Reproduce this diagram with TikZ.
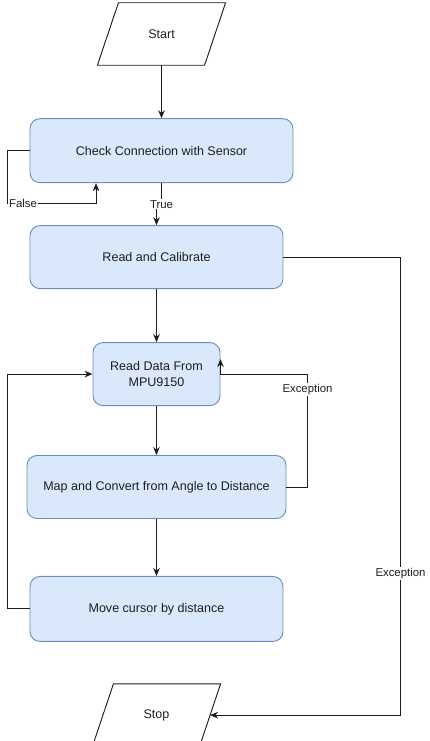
\documentclass[tikz,border=0pt]{standalone}
\usepackage{fontspec}
\setmainfont{Liberation Sans}
\definecolor{FlowBlue}{HTML}{DAE8FC}
\definecolor{FlowEdge}{HTML}{6C8EBF}
\definecolor{FlowDark}{HTML}{1E1E1E}
\usetikzlibrary{arrows.meta,positioning}
\tikzset{
  proc/.style={draw=FlowEdge, rounded corners=8.5pt, align=center, minimum height=1.89cm, fill=FlowBlue, line width=0.8pt, font=\fontsize{10.7}{13.4}\selectfont, text=FlowDark},
  io/.style={align=center, minimum width=3.2cm, minimum height=1.86cm, font=\fontsize{10.7}{13.4}\selectfont, text=FlowDark},
  ioline/.style={draw=FlowDark, line width=0.8pt},
  arrow/.style={-{Stealth[length=2.4mm,width=2mm]}, line width=0.85pt, FlowDark},
  tag/.style={font=\fontsize{9.7}{11}\selectfont, fill=white, inner sep=1pt, text=FlowDark}
}
\begin{document}
\begin{tikzpicture}
    \useasboundingbox (-4.845,1.02) rectangle (8.025,-21.21);
    \node[io] (start) {Start};
    \node[proc, minimum width=7.89cm, minimum height=1.92cm, below=1.59cm of start] (check) {Check Connection with Sensor};
    \node[proc, minimum width=7.59cm, below=1.26cm of check, xshift=-0.15cm] (calib) {Read and Calibrate};
    \node[proc, minimum width=3.81cm, below=1.59cm of calib] (readdata) {Read Data From\\MPU9150};
    \node[proc, minimum width=7.77cm, below=1.47cm of readdata] (map) {Map and Convert from Angle to Distance};
    \node[proc, minimum width=7.59cm, minimum height=1.95cm, below=1.71cm of map] (move) {Move cursor by distance};
    \node[io, below=1.26cm of move] (stop) {Stop};

    % parallelogram outlines
    \foreach \n in {start,stop}
      \draw[ioline] ([xshift=0.315cm]\n.north west) -- ([xshift=0.315cm]\n.north east) -- ([xshift=-0.315cm]\n.south east) -- ([xshift=-0.315cm]\n.south west) -- cycle;

    \draw[arrow] (start) -- (check);
    \draw[arrow] (check.south) -- ++(0,-0.63) node[tag]{True} -| (calib.north);
    \draw[arrow] (check.west) -- ++(-0.66,0) -- ++(0,-1.59) node[tag, anchor=west]{False} -| ([xshift=-1.965cm]check.south);
    \draw[arrow] (calib) -- (readdata);
    \draw[arrow] (readdata) -- (map);
    \draw[arrow] (map) -- (move);
    \draw[arrow] (map.east) -- ++(0.63,0) |- node[tag, pos=0.43]{Exception} (readdata.east) -- ++(0,0.45);
    \draw[arrow] (move.west) -- ++(-0.66,0) |- (readdata.west);
    \draw[arrow] (calib.east) -- ++(3.51,0) |- node[tag, pos=0.345]{Exception} (stop.east);
\end{tikzpicture}
\end{document}
